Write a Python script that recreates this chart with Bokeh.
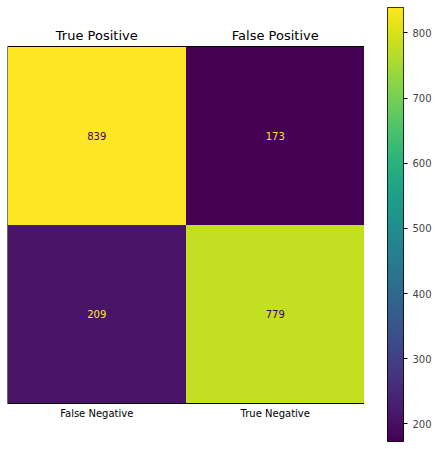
import numpy as np
from bokeh.plotting import figure
from bokeh.layouts import row
from bokeh.models import ColumnDataSource, FixedTicker, LinearColorMapper
from bokeh.palettes import Viridis256
from bokeh.core.properties import value
from bokeh.embed import file_html
from bokeh.resources import INLINE

top_labels = ["True Positive", "False Positive"]
bottom_labels = ["False Negative", "True Negative"]
cols = [0, 1, 0, 1]
rows = [1, 1, 0, 0]
counts = [839, 173, 209, 779]

vmin, vmax = min(counts), max(counts)
mapper = LinearColorMapper(palette=Viridis256, low=vmin, high=vmax)
mid = (vmin + vmax) / 2
src = ColumnDataSource(dict(
    x=[c + 0.5 for c in cols], y=[r + 0.5 for r in rows], v=counts,
    t=[str(c) for c in counts],
    tc=["#440154" if c > mid else "#fde725" for c in counts],
))

FONT = "DejaVu Sans"
px = 2 / 357  # data units per pixel in the heatmap
p = figure(width=364, height=449, x_range=(0, 2), y_range=(-38 * px, 2 + 39 * px),
           output_backend="svg", toolbar_location=None,
           min_border_left=7, min_border_right=0, min_border_top=7, min_border_bottom=8)
p.rect("x", "y", 1, 1, source=src, fill_color={"field": "v", "transform": mapper}, line_color=None)
p.rect(1, 1, 2, 2, fill_color=None, line_color="black", line_width=1)
p.text("x", "y", text="t", source=src, text_color="tc", text_align="center",
       text_baseline="middle", text_font_size="10px", text_font=value(FONT))
p.text([0.5, 1.5], [2 + 4 * px] * 2, text=top_labels, text_align="center", text_baseline="bottom",
       text_font_size="13px", text_font=value(FONT), text_color="black")
p.text([0.5, 1.5], [-4 * px] * 2, text=bottom_labels, text_align="center", text_baseline="top",
       text_font_size="10px", text_font=value(FONT), text_color="black")
p.grid.visible = False
p.axis.visible = False
p.outline_line_color = None

cb = figure(width=70, height=449, x_range=(0, 1), y_range=(vmin, vmax),
            output_backend="svg", toolbar_location=None,
            min_border_left=23, min_border_right=0, min_border_top=7, min_border_bottom=8,
            y_axis_location="right")
grad = np.linspace(vmin, vmax, 256).reshape(-1, 1)
cb.image(image=[grad], x=0, y=vmin, dw=1, dh=vmax - vmin, color_mapper=mapper)
cb.xaxis.visible = False
cb.grid.visible = False
cb.yaxis.ticker = FixedTicker(ticks=[200, 300, 400, 500, 600, 700, 800])
cb.yaxis.minor_tick_line_color = None
cb.yaxis.axis_line_color = None
cb.yaxis.major_label_text_font = FONT
cb.yaxis.major_label_text_font_size = "10px"
cb.yaxis.major_tick_out = 4
cb.yaxis.major_tick_in = 0
cb.outline_line_color = "black"

layout = row(p, cb)
open("out.html", "w").write(file_html(layout, INLINE))
